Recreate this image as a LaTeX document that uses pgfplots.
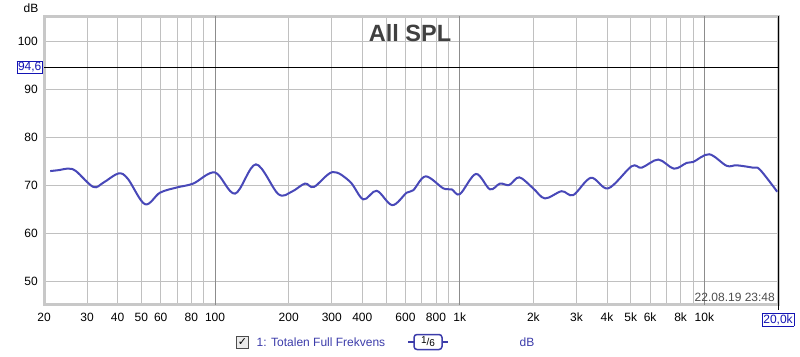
\documentclass[border=0pt]{standalone}
\usepackage{pgfplots}
\pgfplotsset{compat=1.18}
\usepackage{fontspec}
\setmainfont{Liberation Sans}
\newfontfamily\dejavu{DejaVu Sans}
\definecolor{curve}{RGB}{72,72,184}
\definecolor{legblue}{RGB}{60,60,170}
\definecolor{boxblue}{RGB}{20,20,180}
\definecolor{gridc}{RGB}{192,192,192}
\definecolor{decc}{RGB}{140,140,140}
\definecolor{framec}{RGB}{200,200,200}
\begin{document}
\begin{tikzpicture}
\useasboundingbox (0,0) rectangle (800pt,356pt);
\begin{axis}[
  at={(44pt,51pt)}, anchor=south west,
  scale only axis, width=734pt, height=289pt,
  xmode=log, log basis x=10,
  xmin=20, xmax=20000, ymin=45.1, ymax=105.3,
  xtick={20,30,40,50,60,70,80,90,100,200,300,400,500,600,700,800,900,1000,2000,3000,4000,5000,6000,7000,8000,9000,10000,20000},
  xticklabels={20,30,40,50,60,,80,,100,200,300,400,,600,,800,,1k,2k,3k,4k,5k,6k,,8k,,10k,{\fboxsep=1pt\fcolorbox{boxblue}{white}{\textcolor{boxblue}{20,0k}}}},
  ytick={50,60,70,80,90,100},
  /pgf/number format/assume math mode=true,
  extra x ticks={100,1000,10000},
  extra x tick labels={,,},
  extra x tick style={grid=major, major grid style={decc, line width=0.9pt}},
  extra y ticks={94.6},
  extra y tick labels={{\fboxsep=1pt\fcolorbox{boxblue}{white}{\textcolor{boxblue}{94,6}}}},
  extra y tick style={grid=major, major grid style={black, line width=1pt}, yticklabel style={xshift=5pt}},
  grid=major,
  major grid style={gridc, line width=0.8pt},
  major tick length=0pt, minor tick length=0pt,
  ticklabel style={font=\fontsize{12}{14}\selectfont, inner sep=0pt},
  xticklabel style={yshift=-8pt},
  yticklabel style={xshift=-6pt},
  axis line style={framec, line width=3pt},
  clip=true,
]
\addplot[color=curve, line width=2pt, smooth, tension=0.55] coordinates {
(21.2,73.0) (23,73.2) (25.1,73.5) (27,73.0) (31.8,69.7) (35,70.6) (40.3,72.5) (44,71.4)
(51.7,66.1) (59.6,68.5) (70,69.6) (81.5,70.4) (100,72.7) (120.7,68.3) (147,74.4)
(181.4,68.2) (205.8,68.7) (233.2,70.4) (253.8,69.7) (302.5,72.8) (356,70.8) (403.6,67.1)
(457.9,68.9) (530.2,65.9) (607.3,68.5) (645.9,69.0) (726,71.9) (856.8,69.4) (927,69.2)
(1002,68.2) (1165,72.4) (1329,69.2) (1461,70.4) (1594,70.1) (1752,71.7) (1997,69.4)
(2230,67.3) (2610,68.8) (2912,68.0) (3439,71.6) (4047,69.4) (5043,74.0) (5543,73.7)
(6480,75.4) (7510,73.5) (8462,74.7) (9004,74.9) (10471,76.5) (12330,74.1) (13545,74.2)
(15840,73.7) (16870,73.3) (19850,68.7)
};
\end{axis}
\draw[black, line width=1pt] (778pt,51pt) -- (778pt,340pt);
\draw[black, line width=0.8pt] (778pt,51pt) -- (778pt,46pt);
\node[font=\fontsize{23.5}{25}\selectfont\bfseries, text=black!75, inner sep=0pt] at (410pt,323pt) {All SPL};
\node[font=\fontsize{12}{14}\selectfont, inner sep=0pt] at (31pt,348pt) {dB};
\node[font=\fontsize{12}{14}\selectfont, text=black!70, inner sep=0pt, anchor=east] at (775pt,59pt) {22.08.19 23:48};
% legend-like bottom line
\node[draw=black!70, line width=0.8pt, fill=black!8, minimum size=12pt, inner sep=0pt, font=\dejavu\bfseries\fontsize{11}{11}\selectfont] at (242.5pt,14pt) {✓};
\node[anchor=west, text=legblue, font=\fontsize{12}{14}\selectfont, inner sep=0pt] at (256.5pt,14pt) {1: Totalen Full Frekvens};
\draw[legblue, line width=1.5pt] (408pt,14pt) -- (448pt,14pt);
\node[draw=legblue, line width=1.5pt, rounded corners=3pt, fill=white, minimum width=28pt, minimum height=15pt, inner sep=0pt, font=\fontsize{10}{10}\selectfont] at (428pt,14pt) {\raisebox{1.5pt}{1}/\raisebox{-1.5pt}{6}};
\node[text=legblue, font=\fontsize{12}{14}\selectfont, inner sep=0pt] at (527pt,14pt) {dB};
\end{tikzpicture}
\end{document}
